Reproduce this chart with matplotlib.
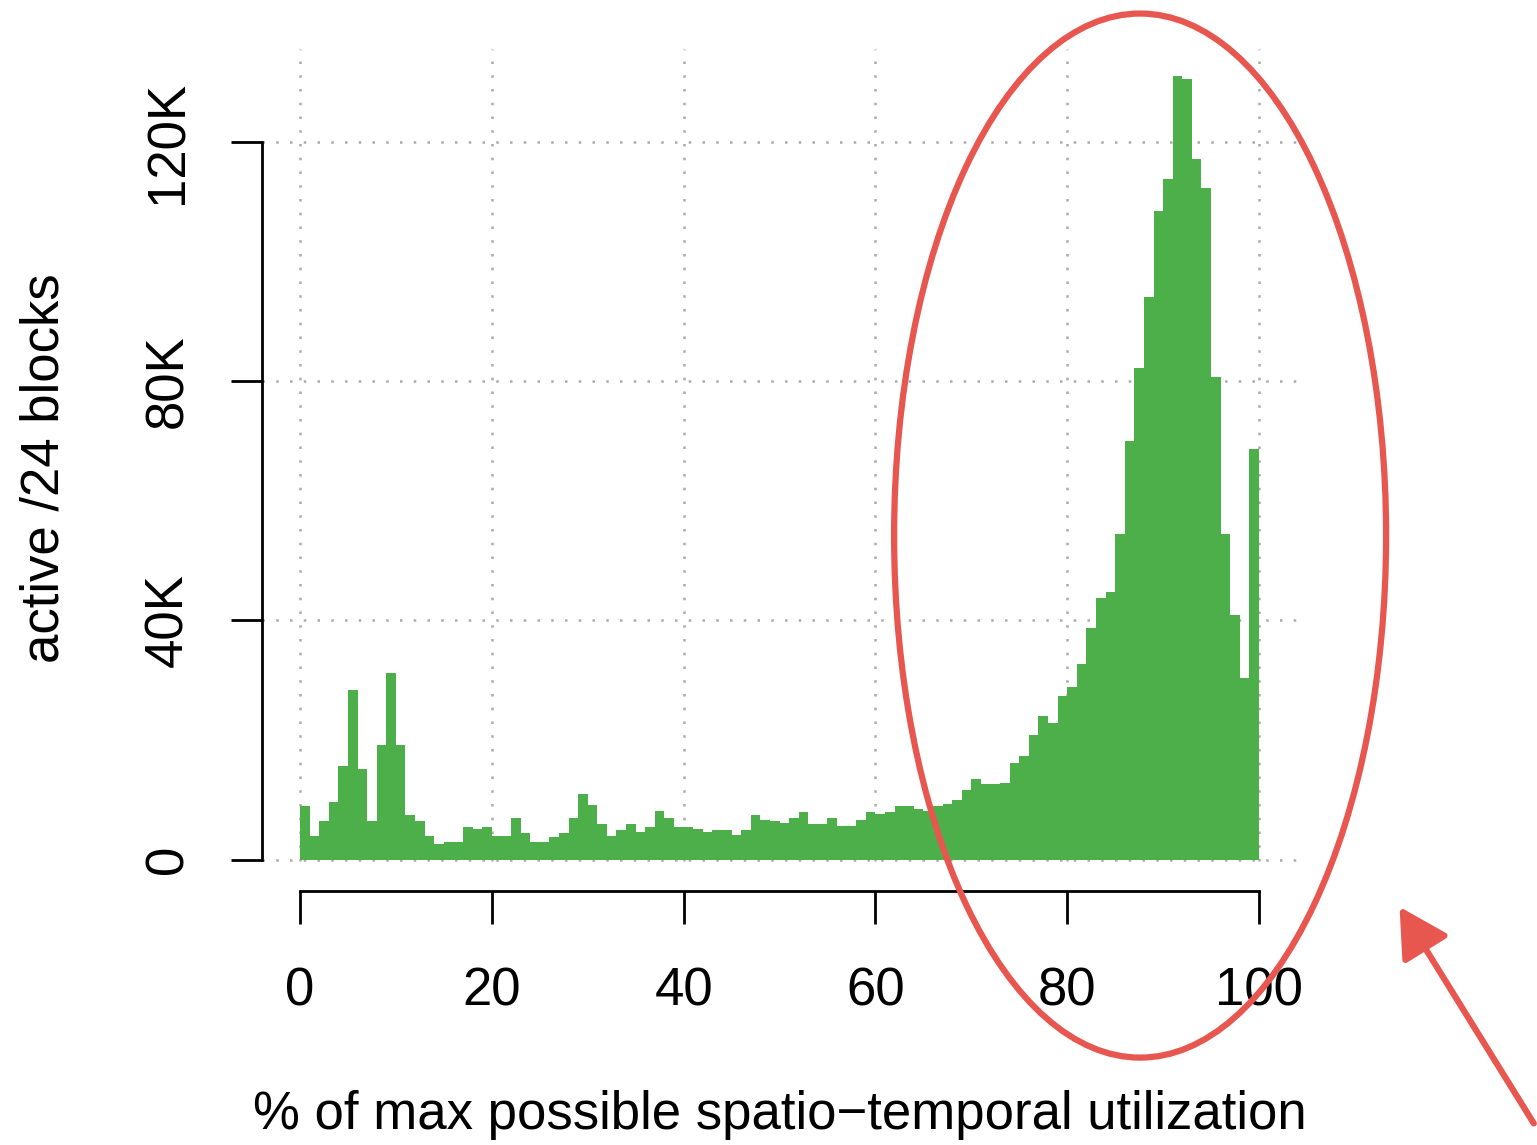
import matplotlib
matplotlib.use("Agg")
import matplotlib.pyplot as plt
from matplotlib.patches import Ellipse
import numpy as np

plt.rcParams['font.family'] = ['Liberation Sans', 'DejaVu Sans']

# bin left edges (percent) and counts (thousands of /24 blocks)
bin_edges = list(range(0, 100))
counts_k = [
    8.9, 4.0, 6.5, 9.7, 15.7, 28.3, 15.1, 6.5, 19.2, 31.3,
    19.2, 7.5, 6.4, 4.0, 2.7, 3.0, 3.0, 5.5, 5.2, 5.4,
    4.0, 4.0, 7.0, 4.4, 2.9, 2.9, 3.8, 4.4, 7.0, 10.9,
    9.1, 5.9, 4.0, 4.9, 5.9, 4.7, 5.4, 8.2, 7.0, 5.4,
    5.5, 5.1, 4.7, 4.9, 4.9, 4.2, 4.9, 7.5, 6.7, 6.5,
    6.2, 6.9, 7.9, 6.0, 5.9, 6.9, 5.7, 5.7, 6.7, 7.9,
    7.7, 7.9, 8.9, 9.0, 8.4, 8.2, 8.9, 9.3, 10.0, 11.7,
    13.5, 12.6, 12.7, 12.9, 16.1, 17.4, 20.9, 24.1, 22.8, 27.3,
    28.8, 32.8, 38.7, 43.8, 44.8, 54.4, 70.0, 82.3, 94.1, 108.5,
    113.8, 131.0, 130.5, 117.2, 112.3, 80.7, 54.4, 41.0, 30.3, 68.7,
]
counts = [c * 1000 for c in counts_k]

x_ticks = [0, 20, 40, 60, 80, 100]
x_ticklabels = ["0", "20", "40", "60", "80", "100"]
y_ticks = [0, 40000, 80000, 120000]
y_ticklabels = ["0", "40K", "80K", "120K"]

W, H = 1537, 1145
fig = plt.figure(figsize=(W / 100, H / 100), dpi=100)
ax = fig.add_axes([261.6 / W, 1 - 891 / H, (1297.4 - 261.6) / W, (891 - 45) / H])

ymax = max(counts)
ax.set_xlim(-4, 104)
ax.set_ylim(-0.04 * ymax, 1.04 * ymax)

grid_kw = dict(color='#AAAAAA', linestyle=(0, (1, 4.5)), linewidth=1.8, zorder=1)
for xv in x_ticks:
    ax.plot([xv, xv], [-0.002 * ymax, 1.035 * ymax], **grid_kw)
for yv in y_ticks:
    ax.plot([-4, 103.9], [yv, yv], **grid_kw)

ax.bar(bin_edges, counts, width=1.0, align='edge', color='#4DAF4A',
       linewidth=0, zorder=2)

for s in ['top', 'right']:
    ax.spines[s].set_visible(False)
ax.spines['left'].set_bounds(0, 120000)
ax.spines['bottom'].set_bounds(0, 100)
for s in ['left', 'bottom']:
    ax.spines[s].set_linewidth(2.0)

ax.set_xticks(x_ticks)
ax.set_xticklabels(x_ticklabels)
ax.set_yticks(y_ticks)
ax.set_yticklabels(y_ticklabels, rotation=90, va='center')
ax.tick_params(axis='x', length=24, width=2.0, pad=30, labelsize=38)
ax.tick_params(axis='y', length=22, width=2.0, pad=27, labelsize=38)

fig.text(779.5 / W, 1 - 1115 / H, "% of max possible spatio\u2212temporal utilization",
         ha='center', va='center', fontsize=38)
fig.text(45 / W, 1 - 468 / H, "active /24 blocks", rotation=90,
         ha='center', va='center', fontsize=38)

# hand-drawn style annotation
red = '#E8574F'
ell = Ellipse((87.6, 54200), 51.3, 174600, fill=False, edgecolor=red,
              linewidth=4.5, clip_on=False, zorder=5)
ax.add_patch(ell)
ax.annotate("", xy=(114.5, -7500), xytext=(128.8, -44500),
            xycoords='data', textcoords='data', annotation_clip=False,
            arrowprops=dict(arrowstyle='-|>,head_length=1.0,head_width=0.55',
                            color=red, linewidth=4.5, mutation_scale=30))

fig.savefig("out.png", dpi=100)
